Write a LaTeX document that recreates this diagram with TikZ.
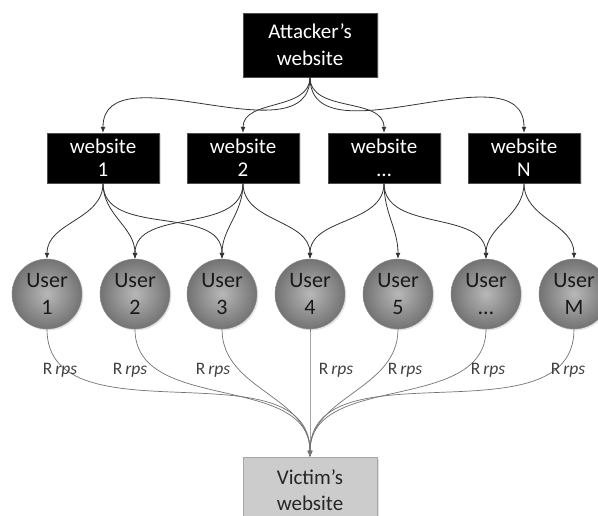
\documentclass[tikz,border=0pt]{standalone}
\usepackage{fontspec}
\setmainfont{Carlito}
\usepackage{tikz}
\usetikzlibrary{arrows.meta,shadows}

\tikzset{
  sitebox/.style={draw=black!70, fill=black, text=white, align=center, inner sep=0pt,
    minimum width=112pt, minimum height=50pt, font=\fontsize{21}{23}\selectfont,
    drop shadow={opacity=0.25, shadow xshift=1.5pt, shadow yshift=-1.5pt}},
  userball/.style={circle, draw=black!45, inner color=black!28, outer color=black!55,
    minimum size=70pt, inner sep=0pt, align=center, text=black!90,
    font=\fontsize{22}{27}\selectfont,
    drop shadow={opacity=0.2, shadow xshift=1.5pt, shadow yshift=-1.5pt}},
  link/.style={draw=black!80, line width=0.8pt, -{Latex[length=6pt,width=5pt]}},
  flow/.style={draw=black!55, line width=0.7pt, -{Latex[length=6pt,width=5pt]}},
  rate/.style={text=black!75, font=\fontsize{17.5}{19}\selectfont}
}

\begin{document}
\begin{tikzpicture}[x=1pt,y=1pt]
\useasboundingbox (0,0) rectangle (598,-516);

% attacker and the websites it uses
\node [sitebox, minimum width=134pt, minimum height=64pt, font=\fontsize{21}{27}\selectfont] (att) at (310,-45) {Attacker's\\website};
\node [sitebox] (w1) at (103,-158) {website\\1};
\node [sitebox] (w2) at (243,-158) {website\\2};
\node [sitebox] (wd) at (384,-158) {website\\\dots};
\node [sitebox] (wN) at (524,-158) {website\\N};

% users
\node [userball] (u1) at (47,-294) {User\\1};
\node [userball] (u2) at (135,-294) {User\\2};
\node [userball] (u3) at (222,-294) {User\\3};
\node [userball] (u4) at (310,-294) {User\\4};
\node [userball] (u5) at (398,-294) {User\\5};
\node [userball] (ud) at (486,-294) {User\\\dots};
\node [userball] (uM) at (574,-294) {User\\M};

% victim
\node [sitebox, fill=black!20, draw=black!35, text=black!85, minimum width=134pt, minimum height=66pt,
  font=\fontsize{21}{26}\selectfont] (vic) at (310,-490) {Victim's\\website};

\foreach \w in {w1,w2,wd,wN}
  \draw [link] (att.south) to[out=-90,in=90] (\w.north);

\draw [link] (w1.south) to[out=-90,in=90] (u1.north);
\draw [link] (w1.south) to[out=-90,in=90] (u2.north);
\draw [link] (w1.south) to[out=-90,in=90] (u3.north);
\draw [link] (w2.south) to[out=-90,in=90] (u2.north);
\draw [link] (w2.south) to[out=-90,in=90] (u3.north);
\draw [link] (w2.south) to[out=-90,in=90] (u4.north);
\draw [link] (wd.south) to[out=-90,in=90] (u4.north);
\draw [link] (wd.south) to[out=-90,in=90] (u5.north);
\draw [link] (wd.south) to[out=-90,in=90] (ud.north);
\draw [link] (wN.south) to[out=-90,in=90] (ud.north);
\draw [link] (wN.south) to[out=-90,in=90] (uM.north);

\foreach \u in {u1,u2,u3,u4,u5,ud,uM}
  \draw [flow] (\u.south) to[out=-90,in=90] (vic.north);

% request rates
\node [rate] (r1) at (60,-370) {R\,\textit{rps}};
\node [rate] (r2) at (130,-370) {R\,\textit{rps}};
\node [rate] (r3) at (213,-370) {R\,\textit{rps}};
\node [rate] (r4) at (336,-370) {R\,\textit{rps}};
\node [rate] (r5) at (405,-370) {R\,\textit{rps}};
\node [rate] (rd) at (488,-370) {R\,\textit{rps}};
\node [rate] (rM) at (568,-370) {R\,\textit{rps}};
\end{tikzpicture}
\end{document}
